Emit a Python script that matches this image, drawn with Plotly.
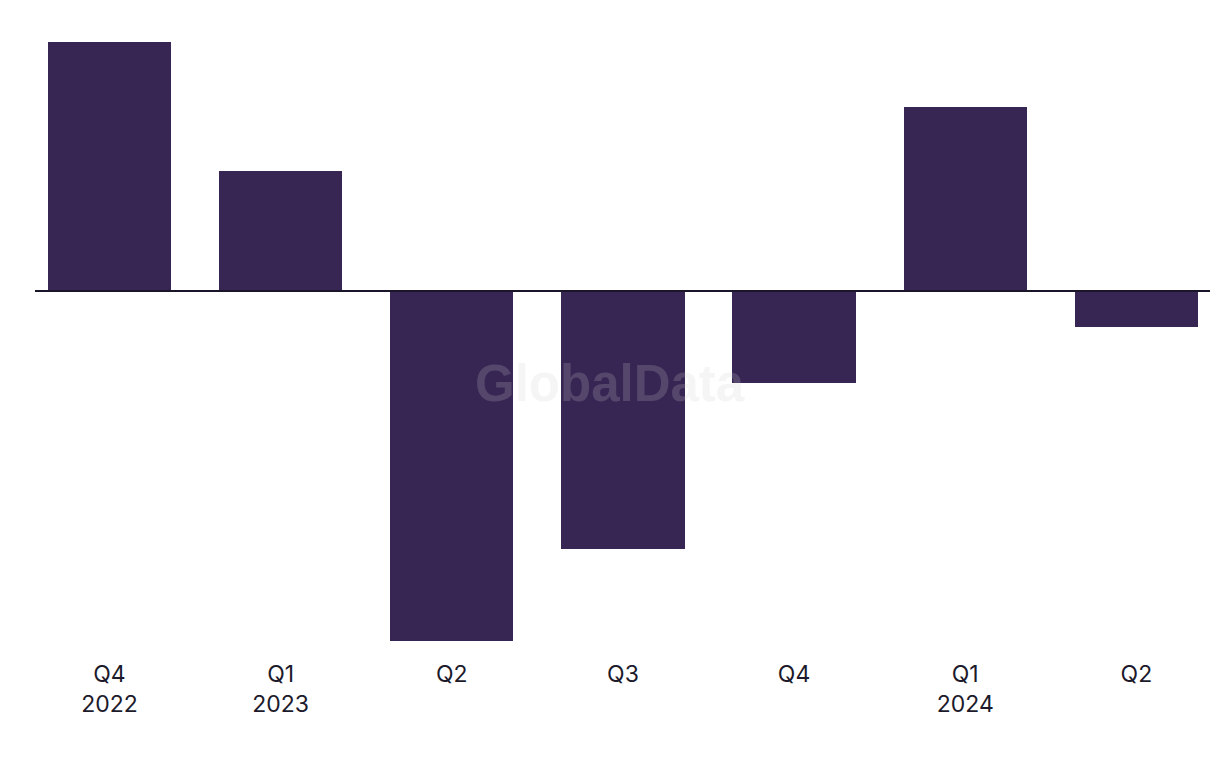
import plotly.graph_objects as go

quarters = ["Q4<br>2022", "Q1<br>2023", "Q2", "Q3", "Q4", "Q1<br>2024", "Q2"]
values = [24.9, 12.0, -35.0, -25.8, -9.2, 18.4, -3.6]

x_idx = list(range(len(values)))

fig = go.Figure()
fig.add_trace(go.Bar(
    x=x_idx, y=values, width=0.72,
    marker=dict(color="#372554", line=dict(width=0)),
    hoverinfo="y",
))

fig.add_shape(type="line", xref="paper", yref="y", x0=0, x1=1, y0=0, y1=0,
              line=dict(color="#1a1528", width=2))

fig.add_annotation(text="<b>GlobalData</b>", xref="paper", yref="paper",
                   x=0.489, y=0.43, showarrow=False,
                   font=dict(family="Liberation Sans, Arial", size=51,
                             color="rgba(205,205,205,0.2)"))

fig.update_layout(
    width=1220, height=768,
    margin=dict(l=27, r=18, t=22, b=126),
    plot_bgcolor="white", paper_bgcolor="white",
    showlegend=False,
    bargap=0,
    xaxis=dict(range=[-0.435, 6.43], tickmode="array", tickvals=x_idx,
               ticktext=quarters, showgrid=False, zeroline=False,
               showline=False, ticks="", ticklabelstandoff=8,
               tickfont=dict(family="Inter, Roboto, sans-serif", size=23, color="#1c1a2b")),
    yaxis=dict(range=[-35.9, 26.1], showgrid=False, zeroline=False,
               showticklabels=False, showline=False, ticks=""),
)

fig.write_html("out.html")
